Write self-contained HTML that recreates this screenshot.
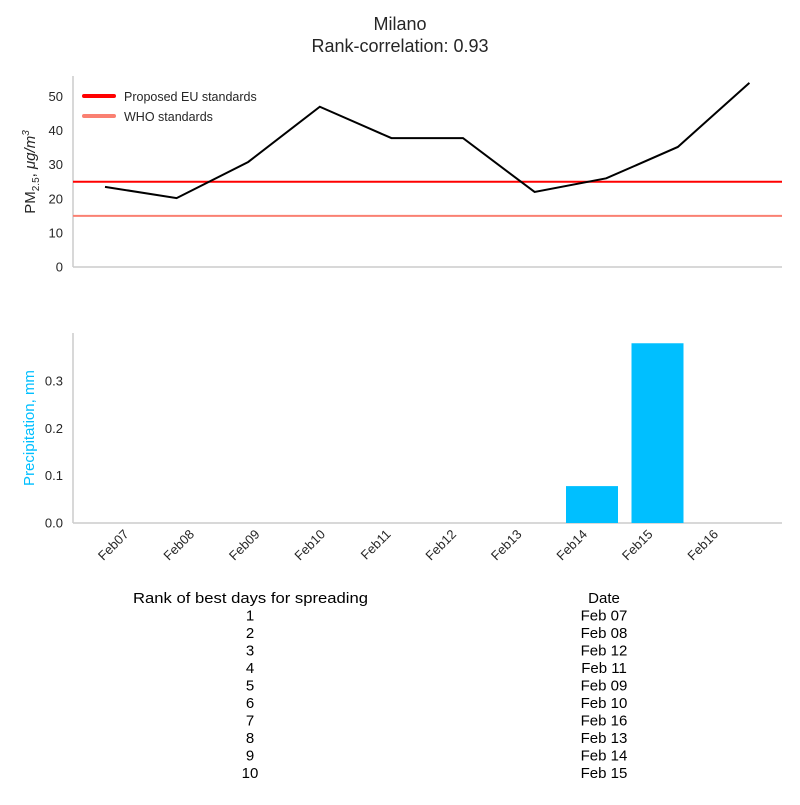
<!DOCTYPE html>
<html><head><meta charset="utf-8"><style>
body{margin:0;background:#fff;}
svg{font-family:"Liberation Sans","DejaVu Sans",sans-serif;}
</style></head><body>
<svg id="c" width="800" height="800" xmlns="http://www.w3.org/2000/svg">
<text x="400" y="30" font-size="18" text-anchor="middle" fill="#262626">Milano</text>
<text x="400" y="52" font-size="18" text-anchor="middle" fill="#262626">Rank-correlation: 0.93</text>
<g id="gtop"></g><g id="gbot"></g><g id="gtbl"></g>
</svg>
<script>
const days=["Feb07","Feb08","Feb09","Feb10","Feb11","Feb12","Feb13","Feb14","Feb15","Feb16"];
const pm=[23.5,20.2,30.8,47,37.8,37.8,22,26,35.2,54];
const precip=[0,0,0,0,0,0,0,0.078,0.38,0];
const pmTicks=[0,10,20,30,40,50];
const prTicks=[0,0.1,0.2,0.3];
const euStd=25, whoStd=15;
const rankNums=[1,2,3,4,5,6,7,8,9,10];
const rankDates=["Feb 07","Feb 08","Feb 12","Feb 11","Feb 09","Feb 10","Feb 16","Feb 13","Feb 14","Feb 15"];
const NS="http://www.w3.org/2000/svg";
function mk(p,t,a,txt){const e=document.createElementNS(NS,t);for(const k in a)e.setAttribute(k,a[k]);if(txt!==undefined)e.textContent=txt;p.appendChild(e);return e;}
const gTop=document.getElementById('gtop'),gBot=document.getElementById('gbot'),gTbl=document.getElementById('gtbl');
const xT=i=>105+71.6*i, yT=v=>267-3.41*v;
const xB=i=>133.5+65.5*i, yB=v=>523-473*v;
let e;
e=mk(gTop,'line',{x1:73,y1:76,x2:73,y2:267,stroke:'#ccc','stroke-width':1.5});


e=mk(gTop,'line',{x1:73,y1:267,x2:782,y2:267,stroke:'#ccc','stroke-width':1.5});


pmTicks.forEach(v=>{e=mk(gTop,'text',{x:63,y:yT(v)+4.5,'font-size':13,'text-anchor':'end',fill:'#262626'},String(v));

});
e=mk(gTop,'line',{x1:73,y1:yT(euStd),x2:782,y2:yT(euStd),stroke:'#ff0000','stroke-width':2});


e=mk(gTop,'line',{x1:73,y1:yT(whoStd),x2:782,y2:yT(whoStd),stroke:'#fa8072','stroke-width':2});


e=mk(gTop,'polyline',{points:pm.map((v,i)=>xT(i)+','+yT(v)).join(' '),fill:'none',stroke:'#000','stroke-width':2});


e=mk(gTop,'text',{x:0,y:0,'font-size':15,fill:'#262626',transform:'translate(35,172) rotate(-90)','text-anchor':'middle'});


e.innerHTML='PM<tspan font-size="10" dy="4">2.5</tspan><tspan dy="-4">, </tspan><tspan font-style="italic">μg/m</tspan><tspan font-size="10" dy="-6" font-style="italic">3</tspan>';
e=mk(gTop,'line',{x1:84,y1:96,x2:114,y2:96,stroke:'#ff0000','stroke-width':4,'stroke-linecap':'round'});


e=mk(gTop,'text',{x:124,y:101,'font-size':12.5,fill:'#262626'},'Proposed EU standards');


e=mk(gTop,'line',{x1:84,y1:116,x2:114,y2:116,stroke:'#fa8072','stroke-width':4,'stroke-linecap':'round'});


e=mk(gTop,'text',{x:124,y:121,'font-size':12.5,fill:'#262626'},'WHO standards');


e=mk(gBot,'line',{x1:73,y1:333,x2:73,y2:523,stroke:'#ccc','stroke-width':1.5});


e=mk(gBot,'line',{x1:73,y1:523,x2:782,y2:523,stroke:'#ccc','stroke-width':1.5});


prTicks.forEach(v=>{e=mk(gBot,'text',{x:63,y:yB(v)+4.5,'font-size':13,'text-anchor':'end',fill:'#262626'},v.toFixed(1));

});
precip.forEach((v,i)=>{if(v<=0)return;e=mk(gBot,'rect',{x:xB(i)-26,y:yB(v),width:52,height:523-yB(v),fill:'#00bfff'});

});
days.forEach((d,i)=>{const x=xB(i)-4,y=535;e=mk(gBot,'text',{x:0,y:0,'font-size':13,fill:'#262626','text-anchor':'end',transform:`translate(${x},${y}) rotate(-45)`},d);

});
e=mk(gBot,'text',{x:0,y:0,'font-size':15,fill:'#00bfff','text-anchor':'middle',transform:'translate(34,428) rotate(-90)'},'Precipitation, mm');


e=mk(gTbl,'text',{x:133,y:603,'font-size':15,fill:'#000',textLength:235,lengthAdjust:'spacingAndGlyphs'},'Rank of best days for spreading');


e=mk(gTbl,'text',{x:604,y:603,'font-size':15,fill:'#000','text-anchor':'middle'},'Date');


rankNums.forEach((r,i)=>{const y=620.5+17.5*i;
e=mk(gTbl,'text',{x:250,y:y,'font-size':15,fill:'#000','text-anchor':'middle'},String(r));


e=mk(gTbl,'text',{x:604,y:y,'font-size':15,fill:'#000','text-anchor':'middle'},rankDates[i]);

});
</script>
</body></html>
